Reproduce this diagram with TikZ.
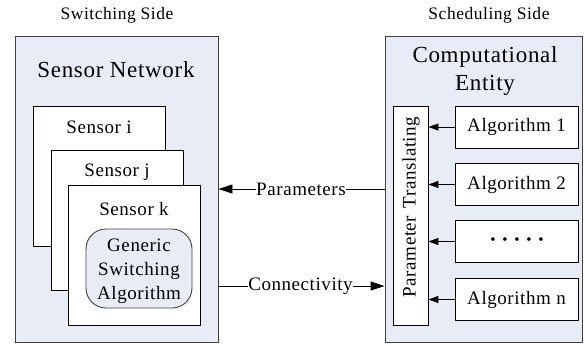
\documentclass[tikz,border=0pt]{standalone}
\usepackage{fontspec}
\setmainfont{Liberation Serif}[LetterSpace=3]
\usetikzlibrary{arrows.meta}
\definecolor{panel}{RGB}{231,236,247}
\definecolor{edge}{RGB}{64,64,64}
\tikzset{
  panelbox/.style={draw=edge, line width=0.9pt, fill=panel, inner sep=0pt},
  whitebox/.style={draw=black, line width=0.9pt, fill=white, inner sep=0pt},
  txt/.style={inner sep=0pt, font=\fontsize{19}{21}\selectfont},
  title/.style={inner sep=0pt, font=\fontsize{23}{28}\selectfont, align=center},
  side/.style={inner sep=0pt, font=\fontsize{17.5}{19}\selectfont},
  bigtip/.style={-{Triangle[length=14pt,width=9pt]}, line width=0.9pt},
  smalltip/.style={-{Triangle[length=10pt,width=7pt]}, line width=0.9pt},
  plain/.style={line width=0.9pt}
}
\begin{document}
\begin{tikzpicture}[x=1pt,y=-1pt]
\useasboundingbox (0,0) rectangle (585,345);
% side labels
\node[side] (sw) at (117,15) {Switching Side};
\node[side] (sc) at (489,15) {Scheduling Side};
% panels
\node[panelbox, minimum width=203pt, minimum height=306pt] (left) at (116.5,189) {};
\node[panelbox, minimum width=197pt, minimum height=306pt] (right) at (483.5,189) {};
\node[title] (sn) at (116,70) {Sensor Network};
\node[title] (ce) at (485,71) {Computational\\Entity};
% sensors
\node[whitebox, minimum width=132pt, minimum height=140pt] (si) at (99,176) {};
\node[txt] (sit) at (99,127) {Sensor i};
\node[whitebox, minimum width=132pt, minimum height=140pt] (sj) at (117,220) {};
\node[txt] (sjt) at (117,172) {Sensor j};
\node[whitebox, minimum width=132pt, minimum height=140pt] (sk) at (134,255) {};
\node[txt] (skt) at (134,209) {Sensor k};
\node[draw=edge, line width=0.9pt, fill=panel, rounded corners=20pt, minimum width=106pt, minimum height=79pt, inner sep=0pt] (gsa) at (139,268.5) {};
\node[txt, align=center, font=\fontsize{19}{24}\selectfont] (gsat) at (139,271) {Generic\\Switching\\Algorithm};
% parameter translating
\node[whitebox, minimum width=35pt, minimum height=219pt] (pt) at (410.5,215.5) {};
\node[txt, rotate=90] (ptt) at (411,207) {Parameter\hspace{0.4em}Translating};
% algorithms
\node[whitebox, minimum width=123pt, minimum height=42pt] (a1) at (516.5,127) {};
\node[txt] (a1t) at (516.5,127) {Algorithm 1};
\node[whitebox, minimum width=123pt, minimum height=42pt] (a2) at (516.5,184.5) {};
\node[txt] (a2t) at (516.5,184.5) {Algorithm 2};
\node[whitebox, minimum width=123pt, minimum height=42pt] (ad) at (516.5,241.5) {};
\node[txt, font=\fontsize{15}{17}\selectfont] (adt) at (517,241.5) {\textbullet\hspace{0.45em}\textbullet\hspace{0.45em}\textbullet\hspace{0.45em}\textbullet\hspace{0.45em}\textbullet};
\node[whitebox, minimum width=123pt, minimum height=42pt] (an) at (516.5,299.5) {};
\node[txt] (ant) at (516.5,299.5) {Algorithm n};
\foreach \a in {a1,a2,ad,an}{
  \draw[smalltip] (\a.west) -- (pt.east |- \a.west);
}
% connectors between sides
\node[txt] (par) at (301,189) {Parameters};
\node[txt] (con) at (300.5,286) {Connectivity};
\draw[plain] (right.west |- par.east) -- (par.east);
\draw[bigtip] (par.west) -- (left.east |- par.west);
\draw[plain] (left.east |- con.west) -- (con.west);
\draw[bigtip] (con.east) -- (right.west |- con.east);
\end{tikzpicture}
\end{document}
